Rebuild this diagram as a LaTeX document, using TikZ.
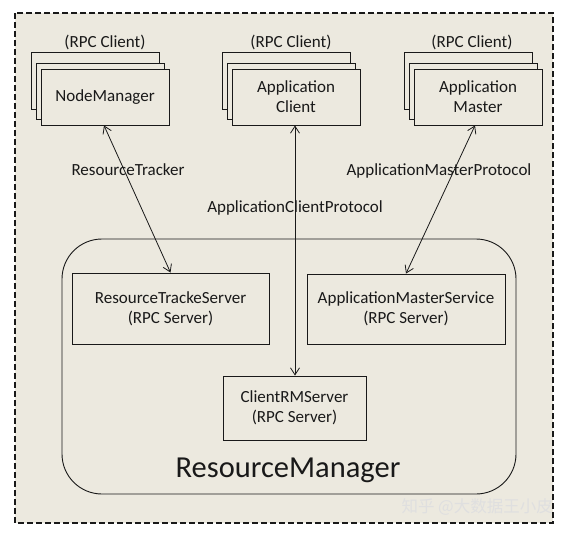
\documentclass[tikz,border=0pt]{standalone}
\usepackage{fontspec}
\setmainfont{Carlito}
\newfontfamily\cjkfont{Noto Sans CJK SC}
\usetikzlibrary{arrows.meta}
\definecolor{bgbeige}{RGB}{236,233,223}
\definecolor{ink}{RGB}{25,25,25}
\begin{document}
\begin{tikzpicture}[x=1pt,y=-1pt,
  every node/.style={text=ink},
  box/.style={draw=ink, line width=0.9pt, fill=bgbeige, inner sep=0pt, align=center, font=\fontsize{17}{20}\selectfont},
  lbl/.style={font=\fontsize{17}{20}\selectfont, inner sep=0pt},
  link/.style={draw=ink, line width=0.8pt, {Straight Barb[length=7pt,width=9pt]}-{Straight Barb[length=7pt,width=9pt]}}
]
\useasboundingbox (0,0) rectangle (570,533);
\fill[white] (0,0) rectangle (570,533);
% dashed outer frame
\draw[fill=bgbeige, draw=ink, line width=1.1pt, dash pattern=on 6pt off 3pt] (15,13) rectangle (553,523);

% ResourceManager rounded region
\draw[draw=ink, line width=0.9pt, rounded corners=40pt] (62,239) rectangle (516,494);
\node[font=\fontsize{30.5}{34}\selectfont, inner sep=0pt] (rmlabel) at (288,470) {ResourceManager};

% NodeManager stack
\node[box, minimum width=128pt, minimum height=57pt] (nmb) at (95,81) {};
\node[box, minimum width=128pt, minimum height=56pt] (nmm) at (100,91) {};
\node[box, minimum width=128pt, minimum height=56pt] (nm) at (105,97) {NodeManager};
\node[lbl] (nmrpc) at (105,42) {(RPC Client)};

% Application Client stack
\node[box, minimum width=128pt, minimum height=57pt] (acb) at (286,81) {};
\node[box, minimum width=128pt, minimum height=56pt] (acm) at (291,91) {};
\node[box, minimum width=128pt, minimum height=56pt] (ac) at (296,97) {Application\\Client};
\node[lbl] (acrpc) at (291,42) {(RPC Client)};

% Application Master stack
\node[box, minimum width=128pt, minimum height=57pt] (amb) at (468,81) {};
\node[box, minimum width=128pt, minimum height=56pt] (amm) at (473,91) {};
\node[box, minimum width=128pt, minimum height=56pt] (am) at (478,97) {Application\\Master};
\node[lbl] (amrpc) at (472,42) {(RPC Client)};

% servers
\node[box, minimum width=197pt, minimum height=71pt] (rts) at (170.5,308.5) {ResourceTrackeServer\\(RPC Server)};
\node[box, minimum width=198pt, minimum height=70pt] (ams) at (406,309) {ApplicationMasterService\\(RPC Server)};
\node[box, minimum width=143pt, minimum height=64pt] (crm) at (294.5,408) {ClientRMServer\\(RPC Server)};

% protocol labels
\node[lbl] (rtlabel) at (128,170) {ResourceTracker};
\node[lbl] (acplabel) at (295,208) {ApplicationClientProtocol};
\node[lbl] (amplabel) at (439,171) {ApplicationMasterProtocol};

% connectors
\draw[link] ([xshift=-1pt]nm.south) -- (rts.north);
\draw[link] ([xshift=-1pt]ac.south) -- ([xshift=-1pt]ac.south |- crm.north);
\draw[link] ([xshift=-3pt]am.south) -- (ams.north);

% watermark
\node[text=white!75!gray, font=\cjkfont\fontsize{16.5}{18}\selectfont, inner sep=0pt, anchor=east] (wm) at (553,507) {知乎 @大数据王小皮};
\end{tikzpicture}
\end{document}
